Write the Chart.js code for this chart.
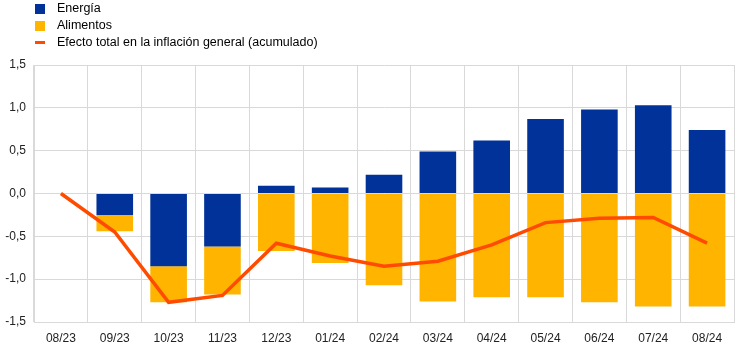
<!DOCTYPE html>
<html>
<head>
<meta charset="utf-8">
<script src="https://cdn.jsdelivr.net/npm/chart.js@4"></script>
<style>
  body { margin: 0; background: #fff; }
  #wrap { position: relative; width: 744px; height: 351px; }
  #legend { position: absolute; left: 35px; top: 0; font: 12.5px "Liberation Sans", Arial, sans-serif; color: #000; }
  #legend div { height: 17px; line-height: 17px; display: flex; align-items: center; }
  #legend span.sw { display: inline-block; width: 10px; height: 10px; margin-right: 12px; }
  #legend span.ln { display: inline-block; width: 10px; height: 3px; margin-right: 12px; }
</style>
</head>
<body>
<div id="wrap">
  <div id="legend"></div>
  <canvas id="chart" width="744" height="351"></canvas>
</div>
<script>
// Data
const months = ['08/23', '09/23', '10/23', '11/23', '12/23', '01/24', '02/24', '03/24', '04/24', '05/24', '06/24', '07/24', '08/24'];
const energia = [0, -0.25, -0.85, -0.62, 0.09, 0.07, 0.22, 0.49, 0.62, 0.87, 0.98, 1.03, 0.74];
const alimentos = [0, -0.19, -0.42, -0.56, -0.67, -0.81, -1.07, -1.26, -1.21, -1.21, -1.27, -1.32, -1.32];
const efectoTotal = [0, -0.45, -1.27, -1.19, -0.58, -0.73, -0.85, -0.79, -0.60, -0.34, -0.29, -0.28, -0.58];
const yTicks = [-1.5, -1.0, -0.5, 0.0, 0.5, 1.0, 1.5];

const blue = '#003299';
const yellow = '#FFB400';
const orange = '#FF4B00';
const font = { family: '"Liberation Sans", Arial, sans-serif', size: 12 };

// legend
const legendItems = [
    { label: 'Energía', color: blue, type: 'box' },
    { label: 'Alimentos', color: yellow, type: 'box' },
    { label: 'Efecto total en la inflación general (acumulado)', color: orange, type: 'line' }
];
document.getElementById('legend').innerHTML = legendItems.map(item =>
    `<div><span class="${item.type === 'box' ? 'sw' : 'ln'}" style="background:${item.color}"></span>${item.label}</div>`
).join('');

const ctx = document.getElementById('chart').getContext('2d');
const chart = new Chart(ctx, {
    data: {
        labels: months,
        datasets: [
            {
                type: 'line',
                label: 'Efecto total en la inflación general (acumulado)',
                data: efectoTotal,
                borderColor: orange,
                borderWidth: 3.5,
                pointRadius: 0,
                tension: 0,
                stack: 'line',
                order: 0
            },
            {
                type: 'bar',
                label: 'Energía',
                data: energia,
                backgroundColor: blue,
                stack: 'bars',
                categoryPercentage: 1,
                barPercentage: 0.68,
                order: 1
            },
            {
                type: 'bar',
                label: 'Alimentos',
                data: alimentos,
                backgroundColor: yellow,
                stack: 'bars',
                categoryPercentage: 1,
                barPercentage: 0.68,
                order: 2
            }
        ]
    },
    options: {
        responsive: false,
        animation: false,
        layout: { padding: { top: 65, right: 10, left: 0, bottom: 0 } },
        plugins: {
            legend: { display: false },
            tooltip: { enabled: false }
        },
        scales: {
            x: {
                stacked: true,
                offset: true,
                grid: { color: '#d9d9d9', offset: true, drawTicks: false },
                border: { color: '#d9d9d9' },
                ticks: { color: '#222', font: font, padding: 9, maxRotation: 0 },
                afterFit: scale => { scale.height = 29; }
            },
            y: {
                stacked: true,
                min: -1.5,
                max: 1.5,
                afterBuildTicks: scale => { scale.ticks = yTicks.map(v => ({ value: v })); },
                grid: { color: '#d9d9d9', drawTicks: false },
                border: { color: '#d9d9d9' },
                ticks: {
                    color: '#222',
                    font: font,
                    padding: 8,
                    callback: v => v.toFixed(1).replace('.', ',')
                },
                afterFit: scale => { scale.width = 34; }
            }
        }
    }
});
</script>
</body>
</html>
